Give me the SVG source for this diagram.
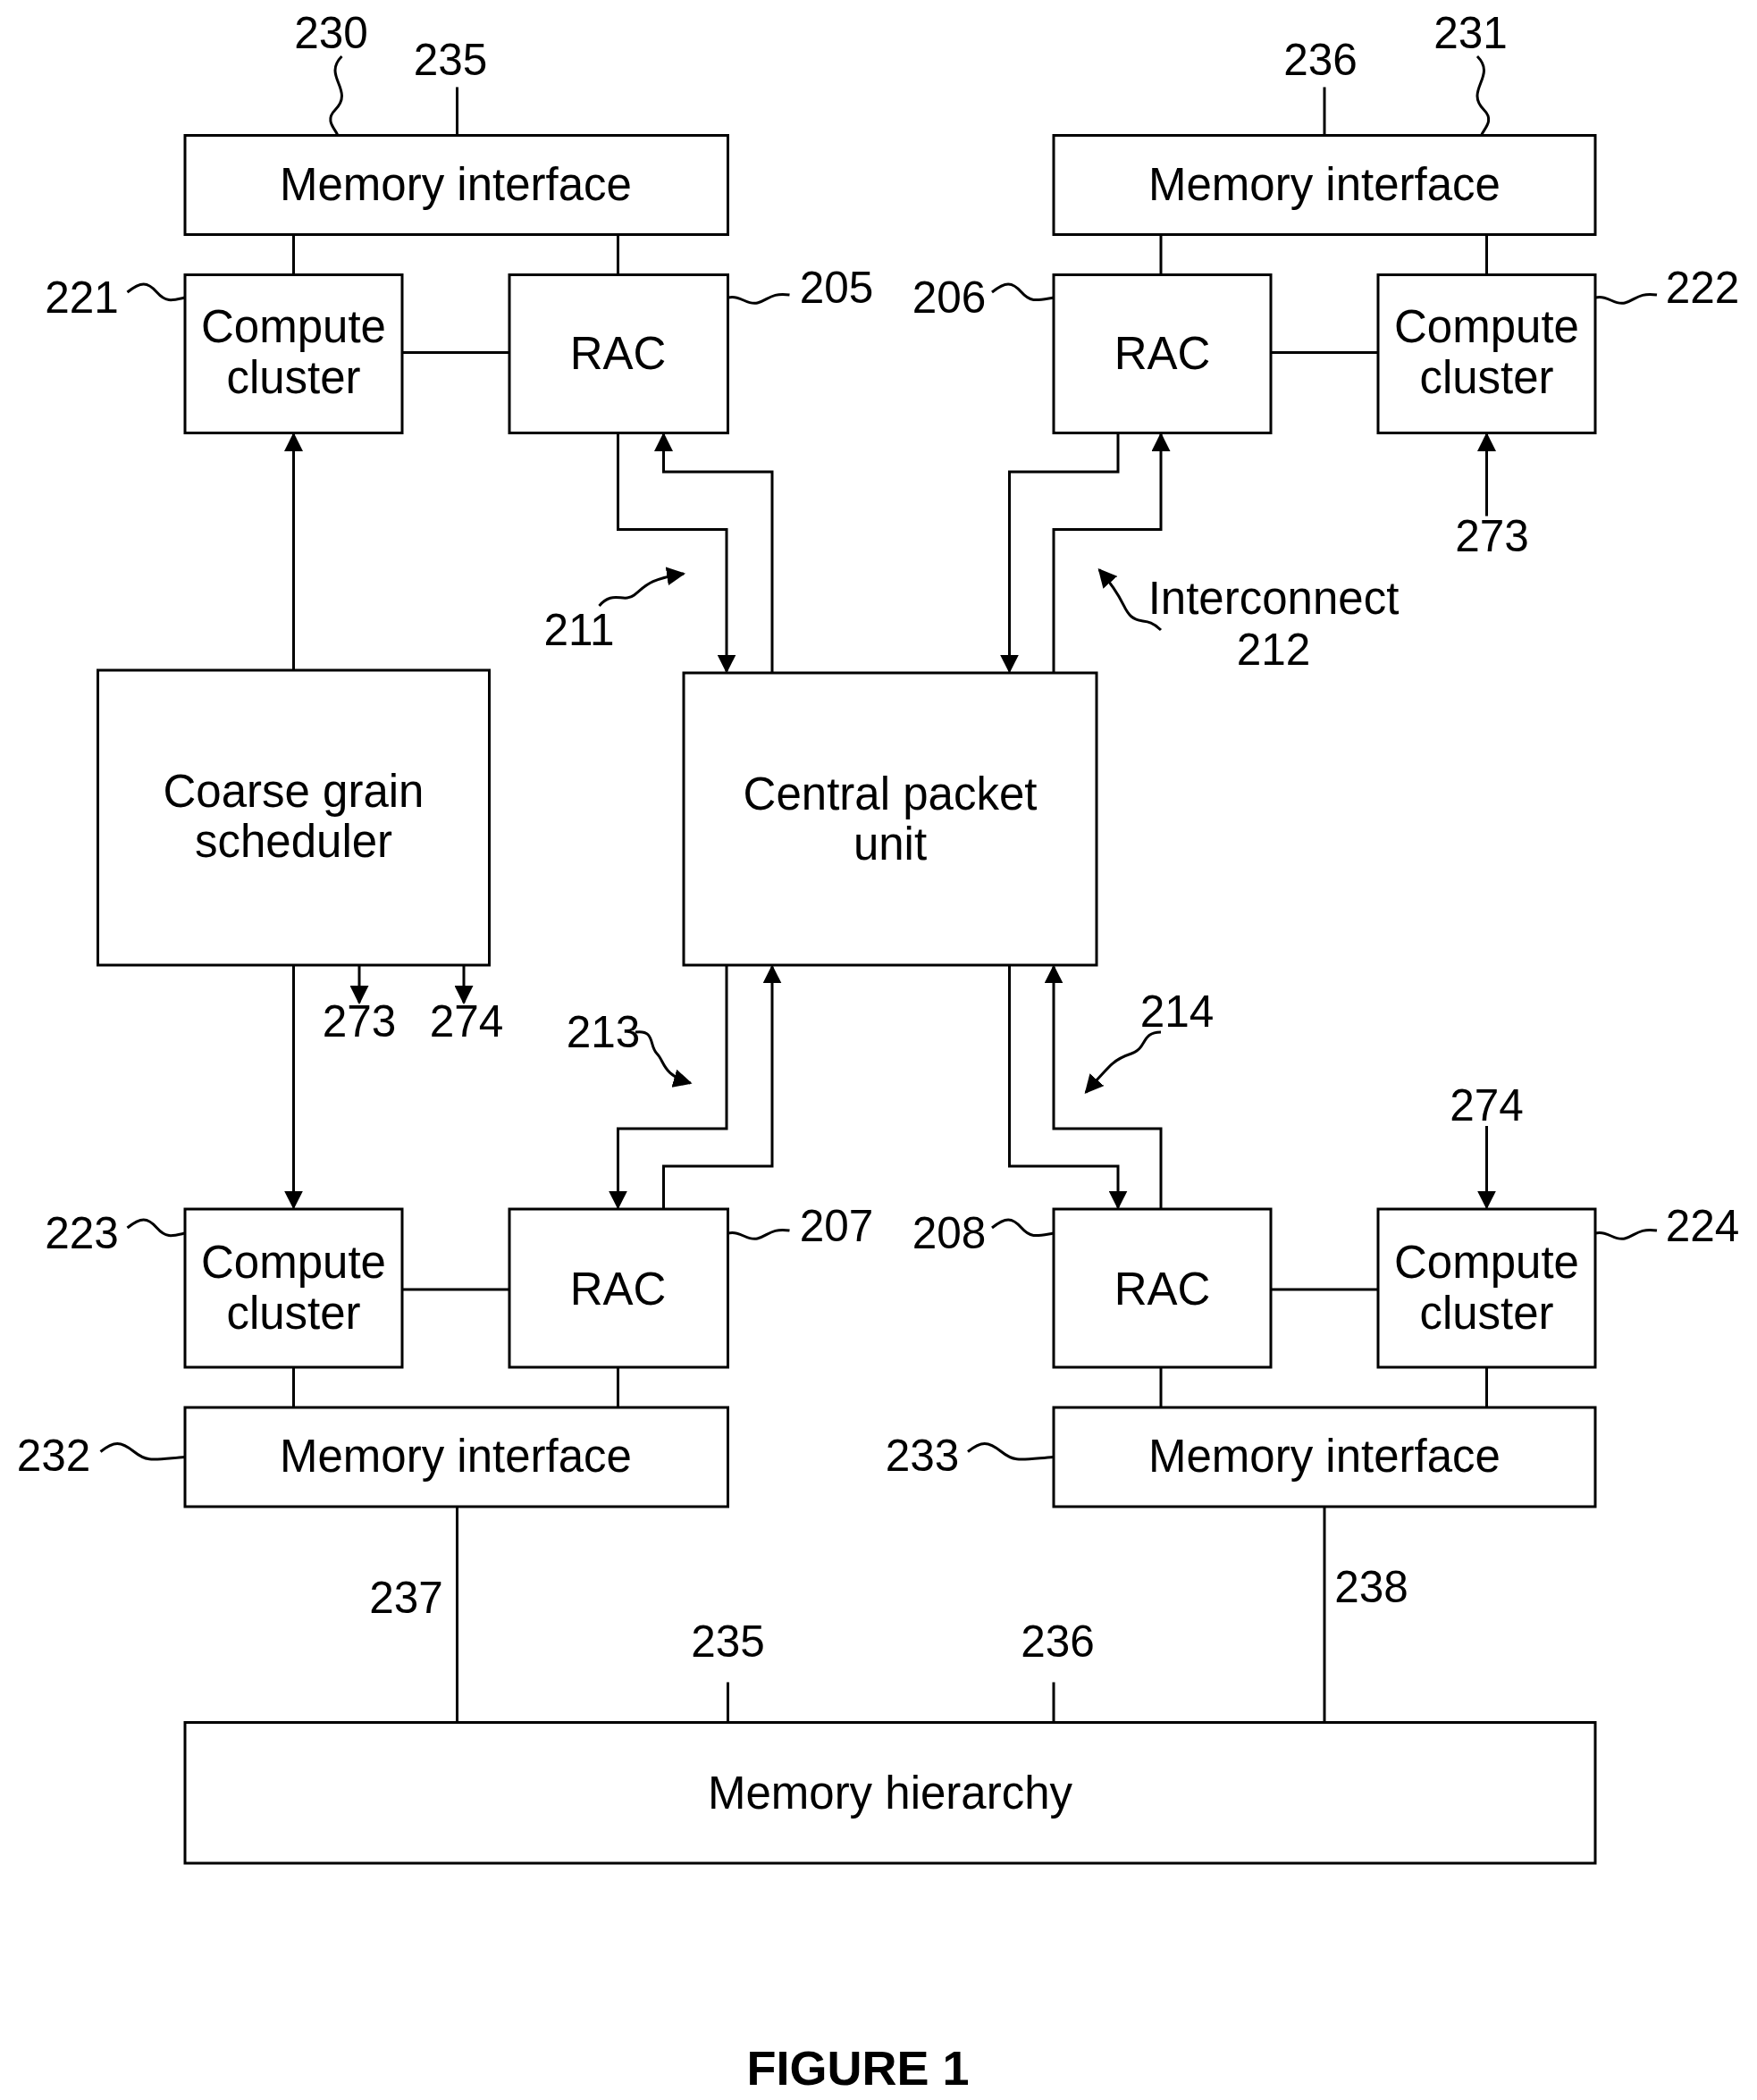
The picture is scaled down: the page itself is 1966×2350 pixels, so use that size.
<svg xmlns="http://www.w3.org/2000/svg" width="1966" height="2350" viewBox="0 0 1966 2350">
<defs>
<style>
.b{fill:#fff;stroke:#000;stroke-width:2}
.l{fill:none;stroke:#000;stroke-width:2}
.t{font-family:"Liberation Sans",Arial,sans-serif;font-size:34px;text-anchor:middle;fill:#000}
.n{font-family:"Liberation Sans",Arial,sans-serif;font-size:33px;text-anchor:middle;fill:#000}
</style>
<marker id="s" viewBox="0 0 10 10" refX="9" refY="5" markerWidth="14" markerHeight="14" orient="auto" markerUnits="userSpaceOnUse"><path d="M0,0L10,5L0,10z"/></marker>
</defs>
<rect width="1966" height="2350" fill="#fff"/>
<g transform="scale(1.5)">
<g id="connectors">
<path class="l" d="M219,175V205M461,175V205M866,175V205M1109,175V205M300,263H380M948,263H1028"/>
<path class="l" d="M219,1020V1050M461,1020V1050M866,1020V1050M1109,1020V1050M300,962H380M948,962H1028"/>
<path class="l" d="M341,65V101M988,65V101M341,1124V1285M988,1124V1285M543,1255V1285M786,1255V1285"/>
<path class="l" d="M219,500V324" marker-end="url(#s)"/>
<path class="l" d="M219,720V901" marker-end="url(#s)"/>
<path class="l" d="M268,720V748" marker-end="url(#s)"/>
<path class="l" d="M346,720V748" marker-end="url(#s)"/>
<path class="l" d="M1109,385V324" marker-end="url(#s)"/>
<path class="l" d="M1109,840V901" marker-end="url(#s)"/>
<path class="l" d="M461,323V395H542V501" marker-end="url(#s)"/>
<path class="l" d="M576,502V352H495V324" marker-end="url(#s)"/>
<path class="l" d="M834,320V352H753V501" marker-end="url(#s)"/>
<path class="l" d="M786,502V395H866V324" marker-end="url(#s)"/>
<path class="l" d="M542,720V842H461V901" marker-end="url(#s)"/>
<path class="l" d="M495,902V870H576V721" marker-end="url(#s)"/>
<path class="l" d="M753,720V870H834V901" marker-end="url(#s)"/>
<path class="l" d="M866,902V842H786V721" marker-end="url(#s)"/>
<path class="l" d="M255,42c-15,15,10,25,-5,40c-8,8,0,14,2,19"/>
<path class="l" d="M1102,42c15,15,-10,25,5,40c8,8,0,14,-2,19"/>
<path class="l" d="M95,218c10,-8,15,-8,22,0s12,6,21,4"/>
<path class="l" d="M543,222c10,-2,14,6,22,4s10,-8,24,-6"/>
<path class="l" d="M740,218c10,-8,15,-8,22,0s12,6,24,4"/>
<path class="l" d="M1190,222c10,-2,14,6,22,4s10,-8,24,-6"/>
<path class="l" d="M95,916c10,-8,15,-8,22,0s12,6,21,4"/>
<path class="l" d="M543,920c10,-2,14,6,22,4s10,-8,24,-6"/>
<path class="l" d="M740,916c10,-8,15,-8,22,0s12,6,24,4"/>
<path class="l" d="M1190,920c10,-2,14,6,22,4s10,-8,24,-6"/>
<path class="l" d="M75,1083c10,-8,15,-8,25,0s14,6,38,4"/>
<path class="l" d="M722,1083c10,-8,15,-8,25,0s14,6,39,4"/>
<path class="l" d="M447,452c10,-12,18,-2,26,-8s10,-12,37,-16" marker-end="url(#s)"/>
<path class="l" d="M866,470c-10,-10,-15,-4,-22,-10s-4,-12,-24,-35" marker-end="url(#s)"/>
<path class="l" d="M474,770c15,-2,10,10,16,16s4,16,25,22" marker-end="url(#s)"/>
<path class="l" d="M866,770c-15,0,-10,12,-22,16s-14,6,-34,29" marker-end="url(#s)"/>
</g>
<g id="mi230"><rect class="b" x="138" y="101" width="405" height="74"/><text class="t" x="340" y="149">Memory interface</text></g>
<g id="mi231"><rect class="b" x="786" y="101" width="404" height="74"/><text class="t" x="988" y="149">Memory interface</text></g>
<g id="cc221"><rect class="b" x="138" y="205" width="162" height="118"/><text class="t" x="219" y="255">Compute</text><text class="t" x="219" y="293">cluster</text></g>
<g id="rac205"><rect class="b" x="380" y="205" width="163" height="118"/><text class="t" x="461" y="275">RAC</text></g>
<g id="rac206"><rect class="b" x="786" y="205" width="162" height="118"/><text class="t" x="867" y="275">RAC</text></g>
<g id="cc222"><rect class="b" x="1028" y="205" width="162" height="118"/><text class="t" x="1109" y="255">Compute</text><text class="t" x="1109" y="293">cluster</text></g>
<g id="sched"><rect class="b" x="73" y="500" width="292" height="220"/><text class="t" x="219" y="602">Coarse grain</text><text class="t" x="219" y="639">scheduler</text></g>
<g id="cpu"><rect class="b" x="510" y="502" width="308" height="218"/><text class="t" x="664" y="604">Central packet</text><text class="t" x="664" y="641">unit</text></g>
<g id="cc223"><rect class="b" x="138" y="902" width="162" height="118"/><text class="t" x="219" y="953">Compute</text><text class="t" x="219" y="991">cluster</text></g>
<g id="rac207"><rect class="b" x="380" y="902" width="163" height="118"/><text class="t" x="461" y="973">RAC</text></g>
<g id="rac208"><rect class="b" x="786" y="902" width="162" height="118"/><text class="t" x="867" y="973">RAC</text></g>
<g id="cc224"><rect class="b" x="1028" y="902" width="162" height="118"/><text class="t" x="1109" y="953">Compute</text><text class="t" x="1109" y="991">cluster</text></g>
<g id="mi232"><rect class="b" x="138" y="1050" width="405" height="74"/><text class="t" x="340" y="1098">Memory interface</text></g>
<g id="mi233"><rect class="b" x="786" y="1050" width="404" height="74"/><text class="t" x="988" y="1098">Memory interface</text></g>
<g id="mh"><rect class="b" x="138" y="1285" width="1052" height="105"/><text class="t" x="664" y="1349">Memory hierarchy</text></g>
<g id="labels">
<text class="n" x="247" y="36">230</text><text class="n" x="336" y="56">235</text>
<text class="n" x="985" y="56">236</text><text class="n" x="1097" y="36">231</text>
<text class="n" x="61" y="233">221</text><text class="n" x="624" y="226">205</text>
<text class="n" x="708" y="233">206</text><text class="n" x="1270" y="226">222</text>
<text class="n" x="1113" y="411">273</text>
<text class="n" x="432" y="481">211</text>
<text class="t" x="950" y="458">Interconnect</text><text class="n" x="950" y="496">212</text>
<text class="n" x="268" y="773">273</text><text class="n" x="348" y="773">274</text>
<text class="n" x="450" y="781">213</text><text class="n" x="878" y="766">214</text>
<text class="n" x="1109" y="836">274</text>
<text class="n" x="61" y="931">223</text><text class="n" x="624" y="926">207</text>
<text class="n" x="708" y="931">208</text><text class="n" x="1270" y="926">224</text>
<text class="n" x="40" y="1097">232</text><text class="n" x="688" y="1097">233</text>
<text class="n" x="303" y="1203">237</text><text class="n" x="1023" y="1195">238</text>
<text class="n" x="543" y="1236">235</text><text class="n" x="789" y="1236">236</text>
<text class="t" x="640" y="1555" style="font-weight:bold;font-size:36px">FIGURE 1</text>
</g>
</g>
</svg>
